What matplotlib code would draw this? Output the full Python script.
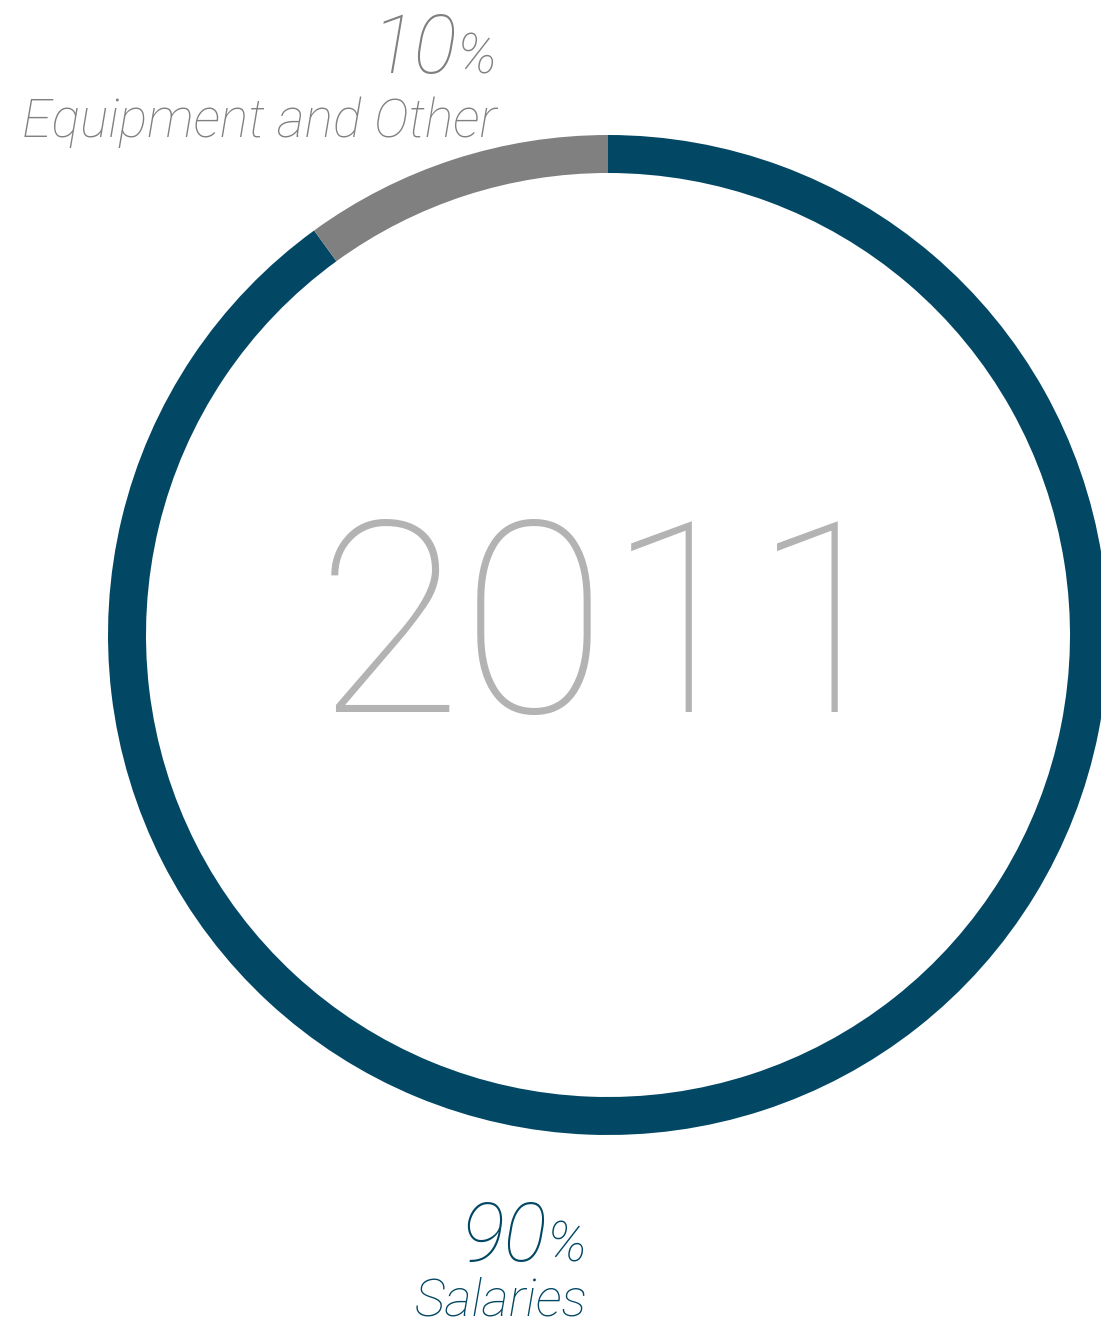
import matplotlib
matplotlib.use("Agg")
import matplotlib.pyplot as plt

categories = ["Salaries", "Equipment and Other"]
shares = [90, 10]
colors = ["#024764", "#808080"]
year = "2011"

W, H = 1101, 1330
fig = plt.figure(figsize=(W / 100, H / 100), dpi=100)
ax = fig.add_axes([0, 0, 1, 1])

# ring centred at pixel (608, 635), outer radius 500, width 38
cx, cy = 608, H - 635
ax.pie(shares, colors=colors, startangle=90, counterclock=False,
       center=(cx, cy), radius=500,
       wedgeprops=dict(width=38, linewidth=0))
ax.set_xlim(0, W)
ax.set_ylim(0, H)
ax.set_aspect("equal")
ax.axis("off")

fam = ["Roboto", "DejaVu Sans"]

ax.text(608, H - 712, year, ha="center", va="baseline", fontsize=192,
        color="#b3b3b3", family=fam, fontweight=100)

# labels: big number + small percent, then category name
def label(x_right, y_num, y_name, value, name, color, name_size):
    t = ax.text(x_right, H - y_num, "%", ha="right", va="baseline",
                fontsize=40, color=color, family=fam, fontweight=100,
                style="italic")
    fig.canvas.draw()
    bb = t.get_window_extent()
    ax.text(bb.x0 + 1, H - y_num, str(value), ha="right", va="baseline",
            fontsize=58, color=color, family=fam, fontweight=100,
            style="italic")
    ax.text(x_right + 1, H - y_name, name, ha="right", va="baseline",
            fontsize=name_size, color=color, family=fam, fontweight=100,
            style="italic")

label(496, 73, 137, shares[1], categories[1], colors[1], 38.5)
label(586, 1261, 1316, shares[0], categories[0], colors[0], 37.5)

fig.savefig("out.png", dpi=100)
